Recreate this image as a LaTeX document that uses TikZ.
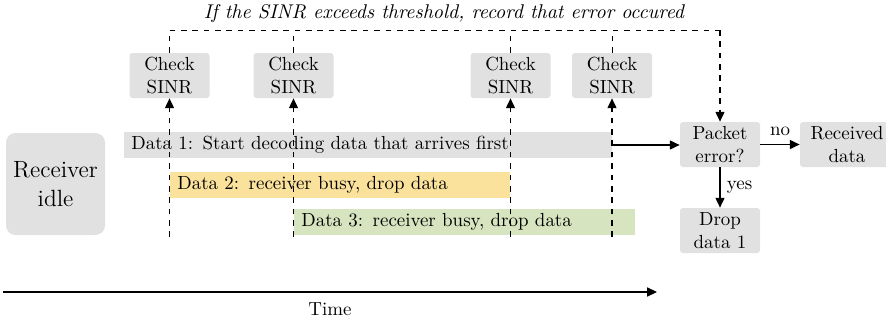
\documentclass[tikz,border=0pt]{standalone}
\usetikzlibrary{arrows.meta}
\newlength\pxu \setlength\pxu{0.528pt}
\definecolor{boxgray}{HTML}{E1E1E1}
\definecolor{baryellow}{HTML}{FAE29C}
\definecolor{bargreen}{HTML}{D6E4BF}
\tikzset{
  box/.style={fill=boxgray, rounded corners=1.5pt, align=center, inner sep=0pt,
    minimum width=80*\pxu, minimum height=45*\pxu},
  bar/.style={anchor=west, inner xsep=7*\pxu, inner ysep=0pt, minimum height=26*\pxu,
    align=left},
  dline/.style={dashed, line width=0.5pt},
  arr/.style={-{Triangle[length=5.2pt,width=4.8pt]}, line width=0.6pt},
}
\begin{document}
\begin{tikzpicture}[x=\pxu, y=-\pxu]
\useasboundingbox (0,0) rectangle (886,320);
% title
\node[font=\fontsize{10.5}{12}\selectfont\itshape] (title) at (444,14) {If the SINR exceeds threshold, record that error occured};
% receiver idle
\node[fill=boxgray, rounded corners=5pt, align=center, inner sep=0pt,
  minimum width=99*\pxu, minimum height=102*\pxu, font=\fontsize{12.4}{15}\selectfont] (idle) at (55.5,184) {Receiver\\idle};
% data bars
\node[bar, fill=boxgray, text width=474*\pxu] (d1) at (124,145) {Data 1: Start decoding data that arrives first};
\node[bar, fill=baryellow, text width=326*\pxu] (d2) at (170,185) {Data 2: receiver busy, drop data};
\node[bar, fill=bargreen, text width=327*\pxu] (d3) at (294,221.5) {Data 3: receiver busy, drop data};
% check boxes
\node[box] (c1) at (169.5,75.5) {Check\\SINR};
\node[box] (c2) at (293.5,75.5) {Check\\SINR};
\node[box] (c3) at (510.5,75.5) {Check\\SINR};
\node[box] (c4) at (612,75.5) {Check\\SINR};
% decision boxes
\node[box] (pe) at (720,144.5) {Packet\\error?};
\node[box, minimum width=94*\pxu] (rd) at (847,144.5) {Received\\data};
\node[box] (dd) at (720,230.5) {Drop\\data 1};
% coordinates
\coordinate (b1) at (169.5,237);
\coordinate (b2) at (293.5,237);
\coordinate (b3) at (510.5,237);
\coordinate (b4) at (612,237);
\coordinate (topR) at (720,30);
\coordinate (t0) at (3,292);
\coordinate (t1) at (657,292);
% dashed lines
\draw[dline] (c1.north) |- (topR);
\draw[dline] (c2.north) -- (c2.north |- topR);
\draw[dline] (c3.north) -- (c3.north |- topR);
\draw[dline] (c4.north) -- (c4.north |- topR);
\draw[dline, arr] (topR) -- (pe.north);
\draw[dline, arr] (b1) -- (c1.south);
\draw[dline, arr] (b2) -- (c2.south);
\draw[dline, arr] (b3) -- (c3.south);
\draw[dline, arr] (b4) -- (c4.south);
% flow
\draw[arr] (d1.east) -- (d1.east -| pe.west);
\draw[arr] (pe.east) -- node[above=1pt] (no) {no} (rd.west);
\draw[arr] (pe.south) -- node[right] (yes) {yes} (dd.north);
% time
\draw[arr] (t0) -- node[below=2pt] (time) {Time} (t1);
\end{tikzpicture}
\end{document}
